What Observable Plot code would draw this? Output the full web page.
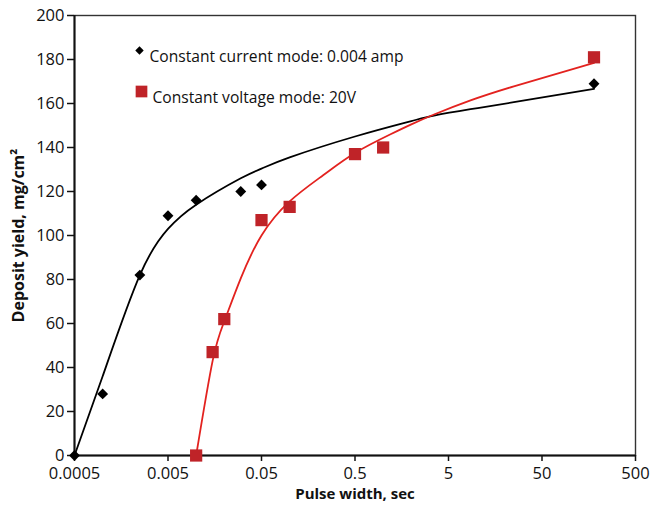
<!DOCTYPE html>
<html>
<head>
<meta charset="utf-8">
<script src="https://cdn.jsdelivr.net/npm/d3@7"></script>
<script src="https://cdn.jsdelivr.net/npm/@observablehq/plot@0.6"></script>
<style>
  html, body { margin: 0; padding: 0; background: #fff; }
  #chart svg { display: block; }
</style>
</head>
<body>
<div id="chart"></div>
<script>
// Tick labels
const xTicks = [0.0005, 0.005, 0.05, 0.5, 5, 50, 500];
const xTickLabels = ["0.0005", "0.005", "0.05", "0.5", "5", "50", "500"];
const yTicks = [0, 20, 40, 60, 80, 100, 120, 140, 160, 180, 200];

// Series: constant current mode (black diamonds)
const currentX = [0.0005, 0.001, 0.0025, 0.005, 0.01, 0.03, 0.05, 180];
const currentY = [0, 28, 82, 109, 116, 120, 123, 169];

// Series: constant voltage mode (red squares)
const voltageX = [0.01, 0.015, 0.02, 0.05, 0.1, 0.5, 1, 180];
const voltageY = [0, 47, 62, 107, 113, 137, 140, 181];

// Trend curves
const currentFitX = [0.0005, 0.001, 0.0025, 0.005, 0.01, 0.03, 0.05, 0.1, 0.5, 2, 3.5, 8.6, 25, 180];
const currentFitY = [0, 36, 82, 103, 114, 126, 130.4, 135.5, 145, 152, 154.5, 157.4, 160.6, 166.6];
const voltageFitX = [0.01, 0.015, 0.02, 0.03, 0.05, 0.1, 0.23, 0.5, 1.2, 2, 3.5, 8.6, 25, 180];
const voltageFitY = [0, 43, 61, 80.5, 100, 115.5, 127.5, 137.5, 146, 150.5, 155, 161.4, 167.8, 178.5];

const legendLabels = ["Constant current mode: 0.004 amp", "Constant voltage mode: 20V"];
const xTitle = "Pulse width, sec";
const yTitle = "Deposit yield, mg/cm\u00B2";

const toRows = (xs, ys) => xs.map((x, i) => ({x, y: ys[i]}));
const current = toRows(currentX, currentY);
const voltage = toRows(voltageX, voltageY);
const currentFit = toRows(currentFitX, currentFitY);
const voltageFit = toRows(voltageFitX, voltageFitY);
const xTickRows = xTicks.map((x, i) => ({x, label: xTickLabels[i]}));

const RED_LINE = "#e3221f";
const RED_FILL = "#bf2328";

const chart = Plot.plot({
  width: 651,
  height: 509,
  marginLeft: 74,
  marginRight: 16,
  marginTop: 15,
  marginBottom: 54,
  style: {fontFamily: "'Open Sans', sans-serif", color: "#111", background: "#fff"},
  x: {type: "log", domain: [xTicks[0], xTicks[xTicks.length - 1]]},
  y: {domain: [yTicks[0], yTicks[yTicks.length - 1]]},
  marks: [
    Plot.frame({stroke: "#333", strokeWidth: 1.4}),
    Plot.axisX({ticks: xTicks, tickFormat: () => "", tickSize: 6, label: null, strokeWidth: 1.5}),
    Plot.text(xTickRows, {x: "x", text: "label", frameAnchor: "bottom", lineAnchor: "top", dy: 12, fontSize: 16.5, fill: "#111"}),
    Plot.axisY({ticks: yTicks, tickSize: 7, tickPadding: 3, fontSize: 16.5, label: null, strokeWidth: 1.5}),
    Plot.ruleX([xTicks[0]], {stroke: "#111", strokeWidth: 2}),
    Plot.ruleY([yTicks[0]], {stroke: "#111", strokeWidth: 2}),
    Plot.line(currentFit, {x: "x", y: "y", stroke: "#000", strokeWidth: 1.8, curve: "natural"}),
    Plot.line(voltageFit, {x: "x", y: "y", stroke: RED_LINE, strokeWidth: 1.8, curve: "natural"}),
    Plot.dot(current, {x: "x", y: "y", symbol: "diamond2", r: 4.9, fill: "#000", stroke: "none"}),
    Plot.dot(voltage, {x: "x", y: "y", symbol: "square", r: 6.9, fill: RED_FILL, stroke: "none"}),
    // Legend
    Plot.dot([legendLabels[0]], {frameAnchor: "top-left", dx: 65, dy: 35, symbol: "diamond2", r: 3.8, fill: "#000", stroke: "none"}),
    Plot.text([legendLabels[0]], {frameAnchor: "top-left", dx: 75, dy: 35, text: d => d, textAnchor: "start", fontSize: 15.6, fill: "#111"}),
    Plot.dot([legendLabels[1]], {frameAnchor: "top-left", dx: 67, dy: 76, symbol: "square", r: 6.6, fill: RED_FILL, stroke: "none"}),
    Plot.text([legendLabels[1]], {frameAnchor: "top-left", dx: 78, dy: 76, text: d => d, textAnchor: "start", fontSize: 15.6, fill: "#111"}),
    // Axis titles
    Plot.text([xTitle], {frameAnchor: "bottom", dy: 43, text: d => d, textAnchor: "middle", fontSize: 15, fontWeight: "bold", fill: "#111"}),
    Plot.text([yTitle], {frameAnchor: "left", dx: -56, rotate: -90, text: d => d, textAnchor: "middle", fontSize: 16, fontWeight: "bold", fill: "#111"})
  ]
});
document.getElementById("chart").appendChild(chart);
</script>
</body>
</html>
